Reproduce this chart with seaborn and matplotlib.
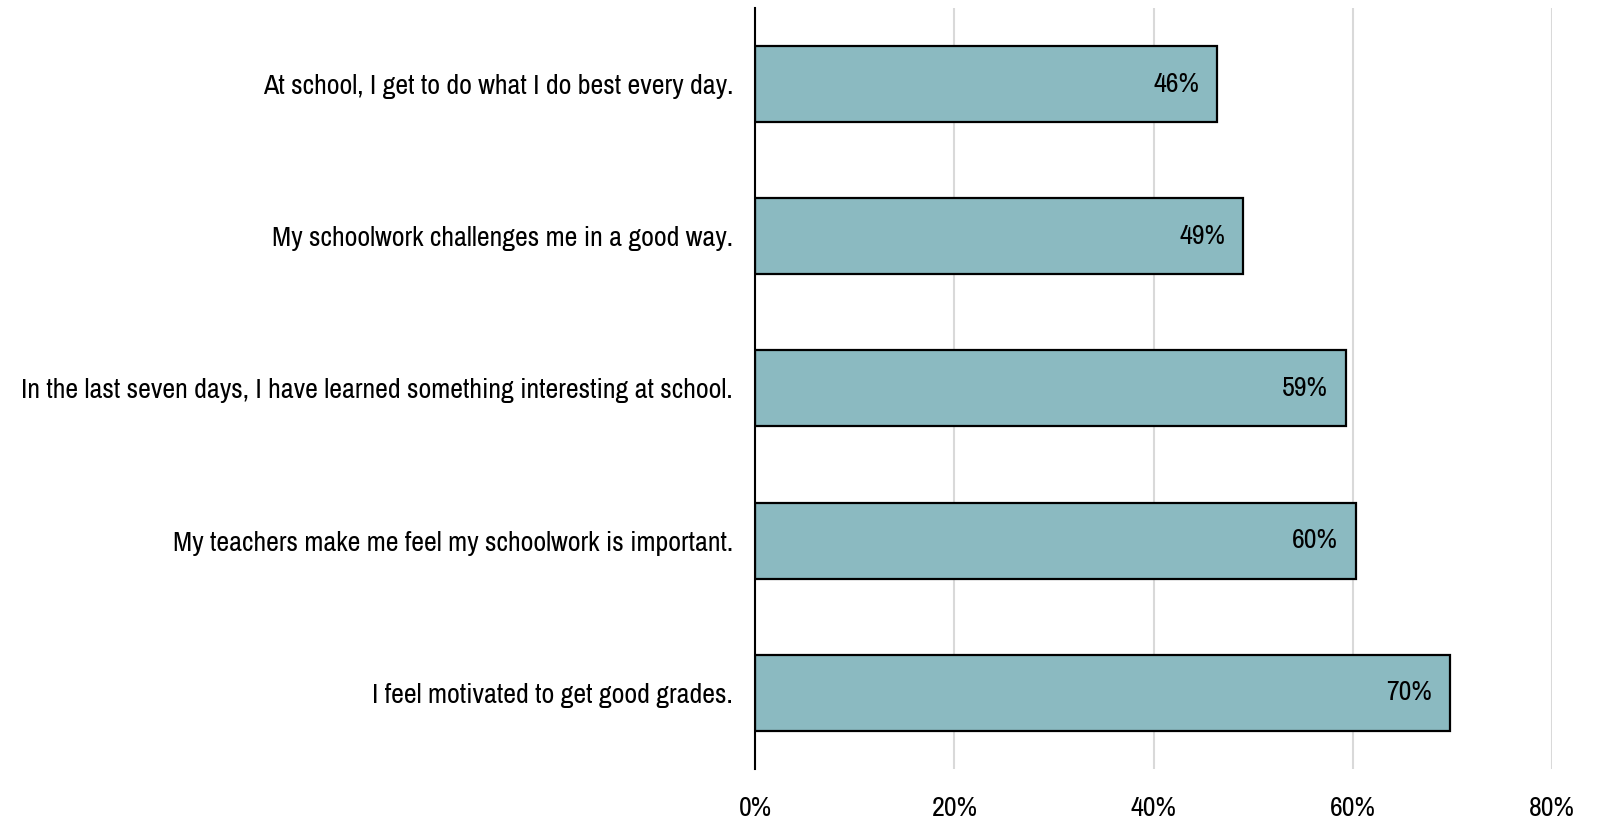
import matplotlib
matplotlib.use("Agg")
import matplotlib.pyplot as plt
import seaborn as sns
import pandas as pd
from matplotlib import font_manager

categories = [
    "At school, I get to do what I do best every day.",
    "My schoolwork challenges me in a good way.",
    "In the last seven days, I have learned something interesting at school.",
    "My teachers make me feel my schoolwork is important.",
    "I feel motivated to get good grades.",
]
values = [46.4, 49.0, 59.3, 60.3, 69.7]
value_labels = ["46%", "49%", "59%", "60%", "70%"]
x_ticks = [0, 20, 40, 60, 80]
x_tick_labels = ["0%", "20%", "40%", "60%", "80%"]

sns.set_theme(style="white")

# look for a condensed / narrow regular face
cands = []
for f in font_manager.fontManager.ttflist:
    low = f.fname.lower()
    if ("condensed" in low or "narrow" in low) and "bold" not in low and "italic" not in low \
            and "oblique" not in low and "light" not in low and "semi" not in low and "thin" not in low \
            and "medium" not in low and "black" not in low and "extra" not in low:
        cands.append(f.fname)
pref = ["narrow", "roboto", "opensans", "open", "noto", "dejavu"]
def rank(p):
    pl = p.lower()
    for i, k in enumerate(pref):
        if k in pl:
            return i
    return 99
cands.sort(key=rank)
if cands:
    prop = font_manager.FontProperties(fname=cands[0])
else:
    prop = font_manager.FontProperties(family="Liberation Sans")

FS = 20.2
prop.set_size(FS)

df = pd.DataFrame({"category": categories, "value": values})

fig = plt.figure(figsize=(15.98, 8.23), dpi=100)
ax = fig.add_axes([0.4726, 0.066, 0.4987, 0.924])
sns.barplot(data=df, x="value", y="category", orient="h", color="#8BBAC1",
            edgecolor="black", linewidth=1.6, width=0.5, saturation=1, ax=ax)

for i, (v, lab) in enumerate(zip(values, value_labels)):
    ax.annotate(lab, xy=(v, i), xytext=(-13, 0), textcoords="offset points",
                ha="right", va="center", fontproperties=prop, color="black")

ax.set_xlim(0, 80)
ax.set_ylim(4.5, -0.5)
ax.set_xticks(x_ticks)
ax.set_xticklabels(x_tick_labels)
ax.tick_params(axis="y", length=0, pad=16, labelcolor="black")
ax.tick_params(axis="x", length=0, pad=20, labelcolor="black")
for t in ax.get_xticklabels() + ax.get_yticklabels():
    t.set_fontproperties(prop)
ax.set_xlabel("")
ax.set_ylabel("")
ax.xaxis.grid(True, color="#D9D9D9", linewidth=1.5)
ax.set_axisbelow(True)
for s in ["top", "right", "bottom"]:
    ax.spines[s].set_visible(False)
ax.spines["left"].set_color("black")
ax.spines["left"].set_linewidth(1.5)

fig.savefig("out.png", dpi=100)
